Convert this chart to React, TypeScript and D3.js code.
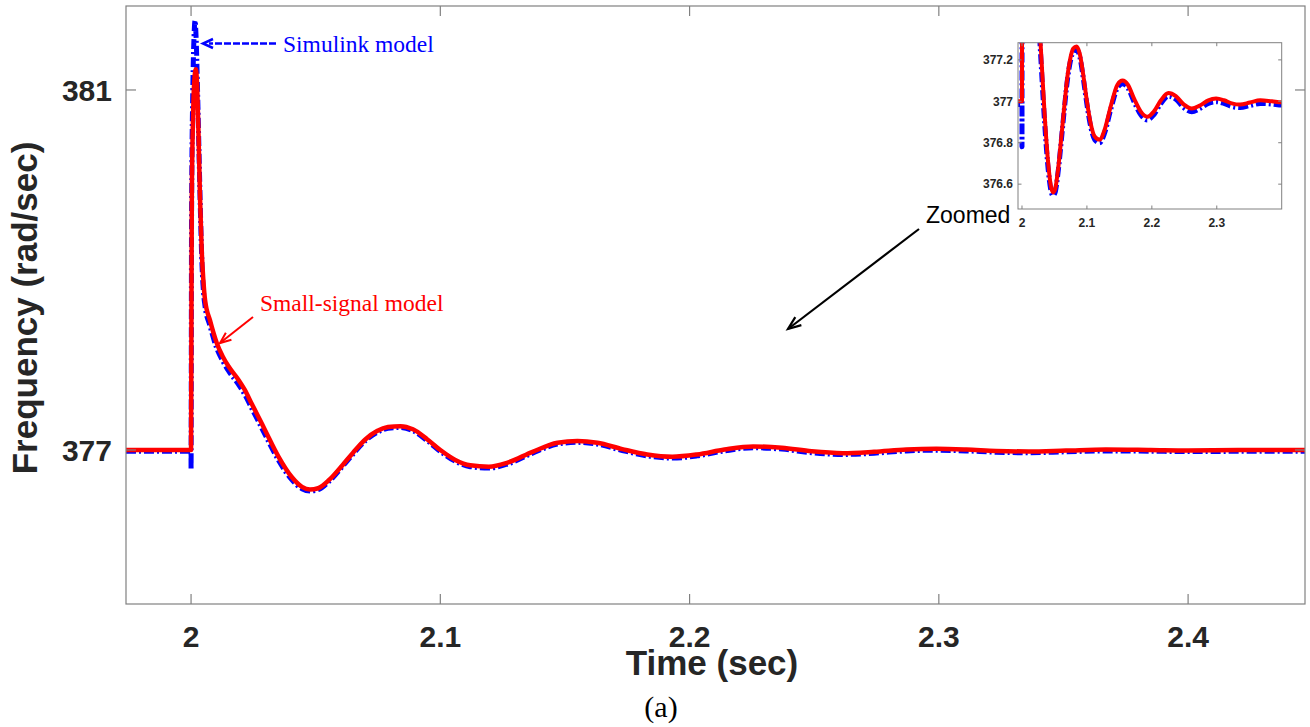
import React from "react";
import * as d3 from "d3";

// ---------- DATA ----------
const timeRed = [
  1.9739, 2.0, 2.00015, 2.0003, 2.0008, 2.0013, 2.0019, 2.0025, 2.003, 2.0036,
  2.0043, 2.0049, 2.0056, 2.0076, 2.0103, 2.0127, 2.015, 2.019, 2.0215, 2.0244,
  2.027, 2.0297, 2.035, 2.0404, 2.0445, 2.0477, 2.051, 2.0555, 2.061, 2.065,
  2.07, 2.0746, 2.079, 2.084, 2.089, 2.0947, 2.1, 2.106, 2.112, 2.1195,
  2.127, 2.137, 2.147, 2.155, 2.163, 2.173, 2.183, 2.193, 2.203, 2.214,
  2.2255, 2.237, 2.249, 2.2615, 2.274, 2.287, 2.299, 2.311, 2.323, 2.336,
  2.351, 2.367, 2.385, 2.4, 2.42, 2.447,
];
const freqRed = [
  377.0, 377.0, 378.5, 379.8, 380.7, 381.1, 381.23, 381.0, 380.5, 379.8,
  379.2, 378.9, 378.67, 378.44, 378.19, 378.04, 377.93, 377.78, 377.67, 377.51,
  377.37, 377.22, 376.93, 376.7, 376.59, 376.56, 376.575, 376.67, 376.84, 376.97,
  377.12, 377.21, 377.255, 377.265, 377.23, 377.12, 377.0, 376.89, 376.83, 376.815,
  376.86, 376.98, 377.08, 377.1, 377.08, 377.01, 376.95, 376.925, 376.95, 377.005,
  377.04, 377.025, 376.985, 376.965, 376.98, 377.005, 377.013, 377.005, 376.99, 376.984,
  376.994, 377.005, 377.0, 376.995, 377.0, 377.0,
];

const timeBlue = [
  1.9739, 1.99998, 2.0, 2.0002, 2.0007, 2.0012, 2.0016, 2.002, 2.0026, 2.0032,
  2.0038, 2.0044, 2.005, 2.0056, 2.0076, 2.0103, 2.0127, 2.015, 2.019, 2.0215,
  2.0244, 2.027, 2.0297, 2.035, 2.0404, 2.0445, 2.0477, 2.051, 2.0555, 2.061,
  2.065, 2.07, 2.0746, 2.079, 2.084, 2.089, 2.0947, 2.1, 2.106, 2.112,
  2.1195, 2.127, 2.137, 2.147, 2.155, 2.163, 2.173, 2.183, 2.193, 2.203,
  2.214, 2.2255, 2.237, 2.249, 2.2615, 2.274, 2.287, 2.299, 2.311, 2.323,
  2.336, 2.351, 2.367, 2.385, 2.4, 2.42, 2.447,
];
const freqBlue = [
  376.985, 376.985, 376.78, 379.6, 381.0, 381.6, 381.77, 381.6, 381.0, 380.3,
  379.6, 379.05, 378.75, 378.6, 378.38, 378.13, 377.99, 377.88, 377.73, 377.62,
  377.46, 377.32, 377.17, 376.89, 376.67, 376.57, 376.545, 376.56, 376.655, 376.825,
  376.955, 377.105, 377.195, 377.24, 377.25, 377.215, 377.105, 376.985, 376.875, 376.815,
  376.8, 376.845, 376.965, 377.065, 377.085, 377.065, 376.995, 376.935, 376.91, 376.935,
  376.99, 377.025, 377.01, 376.97, 376.95, 376.965, 376.99, 376.998, 376.99, 376.975,
  376.97, 376.98, 376.99, 376.987, 376.982, 376.985, 376.985,
];

const xTicks = [2, 2.1, 2.2, 2.3, 2.4];
const yTicks = [377, 381];
const insetXTicks = [2, 2.1, 2.2, 2.3];
const insetYTicks = [376.6, 376.8, 377, 377.2];

const xDomain = [1.9739, 2.4469];
const yDomain = [375.289, 381.933];
const insetXDomain = [1.99385, 2.4];
const insetYDomain = [376.48, 377.283];

const labels = {
  x: "Time (sec)",
  y: "Frequency (rad/sec)",
  simulink: "Simulink model",
  small: "Small-signal model",
  zoomed: "Zoomed",
  caption: "(a)",
};

// ---------- HELPERS ----------
type Pt = [number, number];
function arrowHead(x1: number, y1: number, x2: number, y2: number, len: number, half: number) {
  const a = Math.atan2(y2 - y1, x2 - x1);
  const bx = x2 - len * Math.cos(a);
  const by = y2 - len * Math.sin(a);
  const px = -Math.sin(a) * half;
  const py = Math.cos(a) * half;
  return `M${bx + px},${by + py}L${x2},${y2}L${bx - px},${by - py}`;
}

const SANS = "'Liberation Sans', Arial, Helvetica, sans-serif";
const SERIF = "'Liberation Serif', 'Times New Roman', serif";
const AXIS = "#808080";
const TXT = "#262626";

export default function App() {
  const L = 126, T = 6, R = 1305, B = 604;
  const x = d3.scaleLinear().domain(xDomain).range([L, R]);
  const y = d3.scaleLinear().domain(yDomain).range([B, T]);

  const iL = 1018, iT = 42.7, iR = 1281.7, iB = 209;
  const ix = d3.scaleLinear().domain(insetXDomain).range([iL, iR]);
  const iy = d3.scaleLinear().domain(insetYDomain).range([iB, iT]);

  const red: Pt[] = timeRed.map((t, i) => [t, freqRed[i]]);
  const blue: Pt[] = timeBlue.map((t, i) => [t, freqBlue[i]]);

  const mainLine = d3
    .line<Pt>()
    .x((d) => x(d[0]))
    .y((d) => y(d[1]))
    .curve(d3.curveMonotoneX);
  const insetLine = d3
    .line<Pt>()
    .x((d) => ix(d[0]))
    .y((d) => iy(d[1]))
    .curve(d3.curveMonotoneX);

  const tickLen = 10;
  const iTick = 3.5;

  // annotation geometry
  const simArrow = { x1: 276, y1: 43.5, x2: 203, y2: 43.5 };
  const redArrow = { x1: 253, y1: 317, x2: 220, y2: 343 };
  const blkArrow = { x1: 919, y1: 229, x2: 788, y2: 329 };

  return (
    <svg
      width={1310}
      height={727}
      style={{ position: "absolute", left: 0, top: 0, display: "block", background: "#fff" }}
    >
      <defs>
        <clipPath id="mainClip">
          <rect x={L} y={T} width={R - L} height={B - T} />
        </clipPath>
        <clipPath id="insetClip">
          <rect x={iL} y={iT} width={iR - iL} height={iB - iT} />
        </clipPath>
      </defs>
      <rect x={0} y={0} width={1310} height={727} fill="#fff" />

      {/* main curves */}
      <g clipPath="url(#mainClip)">
        <path
          d={mainLine(blue) || ""}
          fill="none"
          stroke="#0000ff"
          strokeWidth={5}
          strokeDasharray="10,3,2,3"
          strokeLinejoin="round"
        />
        <path d={mainLine(red) || ""} fill="none" stroke="#ff0000" strokeWidth={4.5} strokeLinejoin="round" />
      </g>

      {/* main box */}
      <rect x={L} y={T} width={R - L} height={B - T} fill="none" stroke={AXIS} strokeWidth={1.2} />
      {xTicks.map((t) => (
        <g key={"xt" + t}>
          <line x1={x(t)} x2={x(t)} y1={B} y2={B - tickLen} stroke={AXIS} strokeWidth={1.2} />
          <line x1={x(t)} x2={x(t)} y1={T} y2={T + tickLen} stroke={AXIS} strokeWidth={1.2} />
          <text
            x={x(t)}
            y={647}
            textAnchor="middle"
            fontFamily={SANS}
            fontWeight="bold"
            fontSize={30}
            fill={TXT}
          >
            {String(t)}
          </text>
        </g>
      ))}
      {yTicks.map((t) => (
        <g key={"yt" + t}>
          <line x1={L} x2={L + tickLen} y1={y(t)} y2={y(t)} stroke={AXIS} strokeWidth={1.2} />
          <line x1={R} x2={R - tickLen} y1={y(t)} y2={y(t)} stroke={AXIS} strokeWidth={1.2} />
          <text
            x={112}
            y={y(t) + 11}
            textAnchor="end"
            fontFamily={SANS}
            fontWeight="bold"
            fontSize={30}
            fill={TXT}
          >
            {String(t)}
          </text>
        </g>
      ))}

      {/* axis labels */}
      <text x={712} y={675} textAnchor="middle" fontFamily={SANS} fontWeight="bold" fontSize={35} fill={TXT}>
        {labels.x}
      </text>
      <text
        transform="translate(37,308) rotate(-90)"
        textAnchor="middle"
        fontFamily={SANS}
        fontWeight="bold"
        fontSize={35}
        fill={TXT}
      >
        {labels.y}
      </text>
      <text x={661} y={717} textAnchor="middle" fontFamily={SERIF} fontSize={30} fill="#000">
        {labels.caption}
      </text>

      {/* Simulink annotation */}
      <line
        x1={simArrow.x1}
        y1={simArrow.y1}
        x2={simArrow.x2 + 6}
        y2={simArrow.y2}
        stroke="#0000ff"
        strokeWidth={2.5}
        strokeDasharray="7,2"
      />
      <path
        d={arrowHead(simArrow.x1, simArrow.y1, simArrow.x2, simArrow.y2, 10, 4.5)}
        fill="none"
        stroke="#0000ff"
        strokeWidth={2.5}
      />
      <text x={283} y={52} fontFamily={SERIF} fontSize={23.5} fill="#0000ff">
        {labels.simulink}
      </text>

      {/* Small-signal annotation */}
      <line x1={redArrow.x1} y1={redArrow.y1} x2={redArrow.x2} y2={redArrow.y2} stroke="#ff0000" strokeWidth={2} />
      <path
        d={arrowHead(redArrow.x1, redArrow.y1, redArrow.x2, redArrow.y2, 11, 4.5)}
        fill="none"
        stroke="#ff0000"
        strokeWidth={2}
      />
      <text x={260} y={311} fontFamily={SERIF} fontSize={23.5} fill="#ff0000">
        {labels.small}
      </text>

      {/* Zoomed annotation */}
      <line x1={blkArrow.x1} y1={blkArrow.y1} x2={blkArrow.x2} y2={blkArrow.y2} stroke="#000" strokeWidth={2.2} />
      <path
        d={arrowHead(blkArrow.x1, blkArrow.y1, blkArrow.x2, blkArrow.y2, 13, 5)}
        fill="none"
        stroke="#000"
        strokeWidth={2.2}
      />
      <text x={926} y={223} fontFamily={SANS} fontSize={23} fill="#000">
        {labels.zoomed}
      </text>

      {/* inset */}
      <rect x={iL} y={iT} width={iR - iL} height={iB - iT} fill="#fff" />
      <g clipPath="url(#insetClip)">
        <path
          d={insetLine(blue) || ""}
          fill="none"
          stroke="#0000ff"
          strokeWidth={5}
          strokeDasharray="10,3,2,3"
          strokeLinejoin="round"
        />
        <path d={insetLine(red) || ""} fill="none" stroke="#ff0000" strokeWidth={4} strokeLinejoin="round" />
      </g>
      <rect x={iL} y={iT} width={iR - iL} height={iB - iT} fill="none" stroke={AXIS} strokeWidth={1} />
      {insetXTicks.map((t) => (
        <g key={"ixt" + t}>
          <line x1={ix(t)} x2={ix(t)} y1={iB} y2={iB - iTick} stroke={AXIS} />
          <line x1={ix(t)} x2={ix(t)} y1={iT} y2={iT + iTick} stroke={AXIS} />
          <text x={ix(t)} y={227} textAnchor="middle" fontFamily={SANS} fontWeight="bold" fontSize={12} fill={TXT}>
            {String(t)}
          </text>
        </g>
      ))}
      {insetYTicks.map((t) => (
        <g key={"iyt" + t}>
          <line x1={iL} x2={iL + iTick} y1={iy(t)} y2={iy(t)} stroke={AXIS} />
          <line x1={iR} x2={iR - iTick} y1={iy(t)} y2={iy(t)} stroke={AXIS} />
          <text
            x={1013}
            y={iy(t) + 4.3}
            textAnchor="end"
            fontFamily={SANS}
            fontWeight="bold"
            fontSize={12}
            fill={TXT}
          >
            {String(t)}
          </text>
        </g>
      ))}
    </svg>
  );
}
